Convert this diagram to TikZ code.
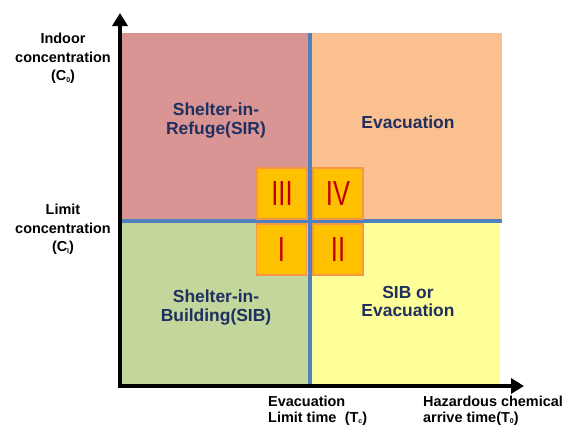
\documentclass[tikz,border=0pt]{standalone}
\usepackage{fontspec}
\setmainfont{Liberation Sans}
\usetikzlibrary{arrows.meta}
\definecolor{cpink}{HTML}{D99594}
\definecolor{cpeach}{HTML}{FAC090}
\definecolor{cgreen}{HTML}{C3D69B}
\definecolor{cyellow}{HTML}{FFFF99}
\definecolor{cblue}{HTML}{4F81BD}
\definecolor{cbox}{HTML}{FFC000}
\definecolor{cboxline}{HTML}{F79646}
\definecolor{cred}{HTML}{C00000}
\definecolor{cnavy}{HTML}{1F2F5F}
\newcommand\tinysub[1]{\raisebox{-0.2ex}{\fontsize{7}{7}\selectfont #1}}
\tikzset{
  axisline/.style={line width=4bp,-{Triangle[width=15bp,length=13bp]}},
  divline/.style={line width=4bp,cblue},
  qbox/.style={draw=cboxline,line width=1.2bp,fill=cbox,minimum width=50bp,minimum height=51bp,inner sep=0,
    text=cred,font=\fontsize{35}{35}\selectfont},
  reglabel/.style={text=cnavy,font=\bfseries\fontsize{17.5}{18.5}\selectfont,align=center,inner sep=0},
  axlabel/.style={text=black,font=\bfseries\fontsize{14.5}{18.5}\selectfont,inner sep=0},
  botlabel/.style={text=black,font=\bfseries\fontsize{14.5}{16}\selectfont,inner sep=0,align=left,anchor=north west},
}
\begin{document}
\begin{tikzpicture}[x=1bp,y=-1bp]
\useasboundingbox (0,0) rectangle (568,426);
% regions
\fill[cpink] (122,33) rectangle (309.5,221);
\fill[cpeach] (309.5,33) rectangle (502,221);
\fill[cgreen] (122,221) rectangle (309.5,384);
\fill[cyellow] (309.5,221) rectangle (500,384);
% dividing lines
\coordinate (vtop) at (309.5,33);
\coordinate (vbot) at (309.5,384);
\coordinate (hleft) at (122,221);
\coordinate (hright) at (502,221);
\draw[divline] (vtop) -- (vbot);
\draw[divline] (hleft) -- (hright);
% axes
\coordinate (ybot) at (120,388);
\coordinate (ytip) at (120,13);
\coordinate (xleft) at (118,386);
\coordinate (xtip) at (524,386);
\draw[axisline] (ybot) -- (ytip);
\draw[axisline] (xleft) -- (xtip);
% quadrant boxes
\node[qbox] (q3) at (282,193.5) {\scalebox{0.73}[1]{III}};
\node[qbox] (q4) at (338,193.5) {\scalebox{0.73}[1]{IV}};
\node[qbox] (q1) at (281.5,249.5) {\scalebox{0.73}[1]{I}};
\node[qbox] (q2) at (338,249.5) {\scalebox{0.73}[1]{II}};
% region labels
\node[reglabel,anchor=north] (sir) at (216,103) {Shelter-in-\\Refuge(SIR)};
\node[reglabel] (evac) at (408,122) {Evacuation};
\node[reglabel,anchor=north] (sib) at (216,290) {Shelter-in-\\Building(SIB)};
\node[reglabel,anchor=north] (sibevac) at (408,286) {SIB or\\Evacuation};
% axis labels
\node[axlabel,align=center,anchor=north] (indoor) at (63,33) {Indoor\\concentration\\(C\tinysub{0})};
\node[axlabel,align=center,anchor=north] (limit) at (63,204) {Limit\\concentration\\(C\tinysub{l})};
\node[botlabel] (tc) at (268,395.5) {Evacuation\\Limit time\hspace{0.3em} (T\tinysub{c})};
\node[botlabel] (t0) at (423,395.5) {Hazardous chemical\\arrive time(T\tinysub{0})};
\end{tikzpicture}
\end{document}
